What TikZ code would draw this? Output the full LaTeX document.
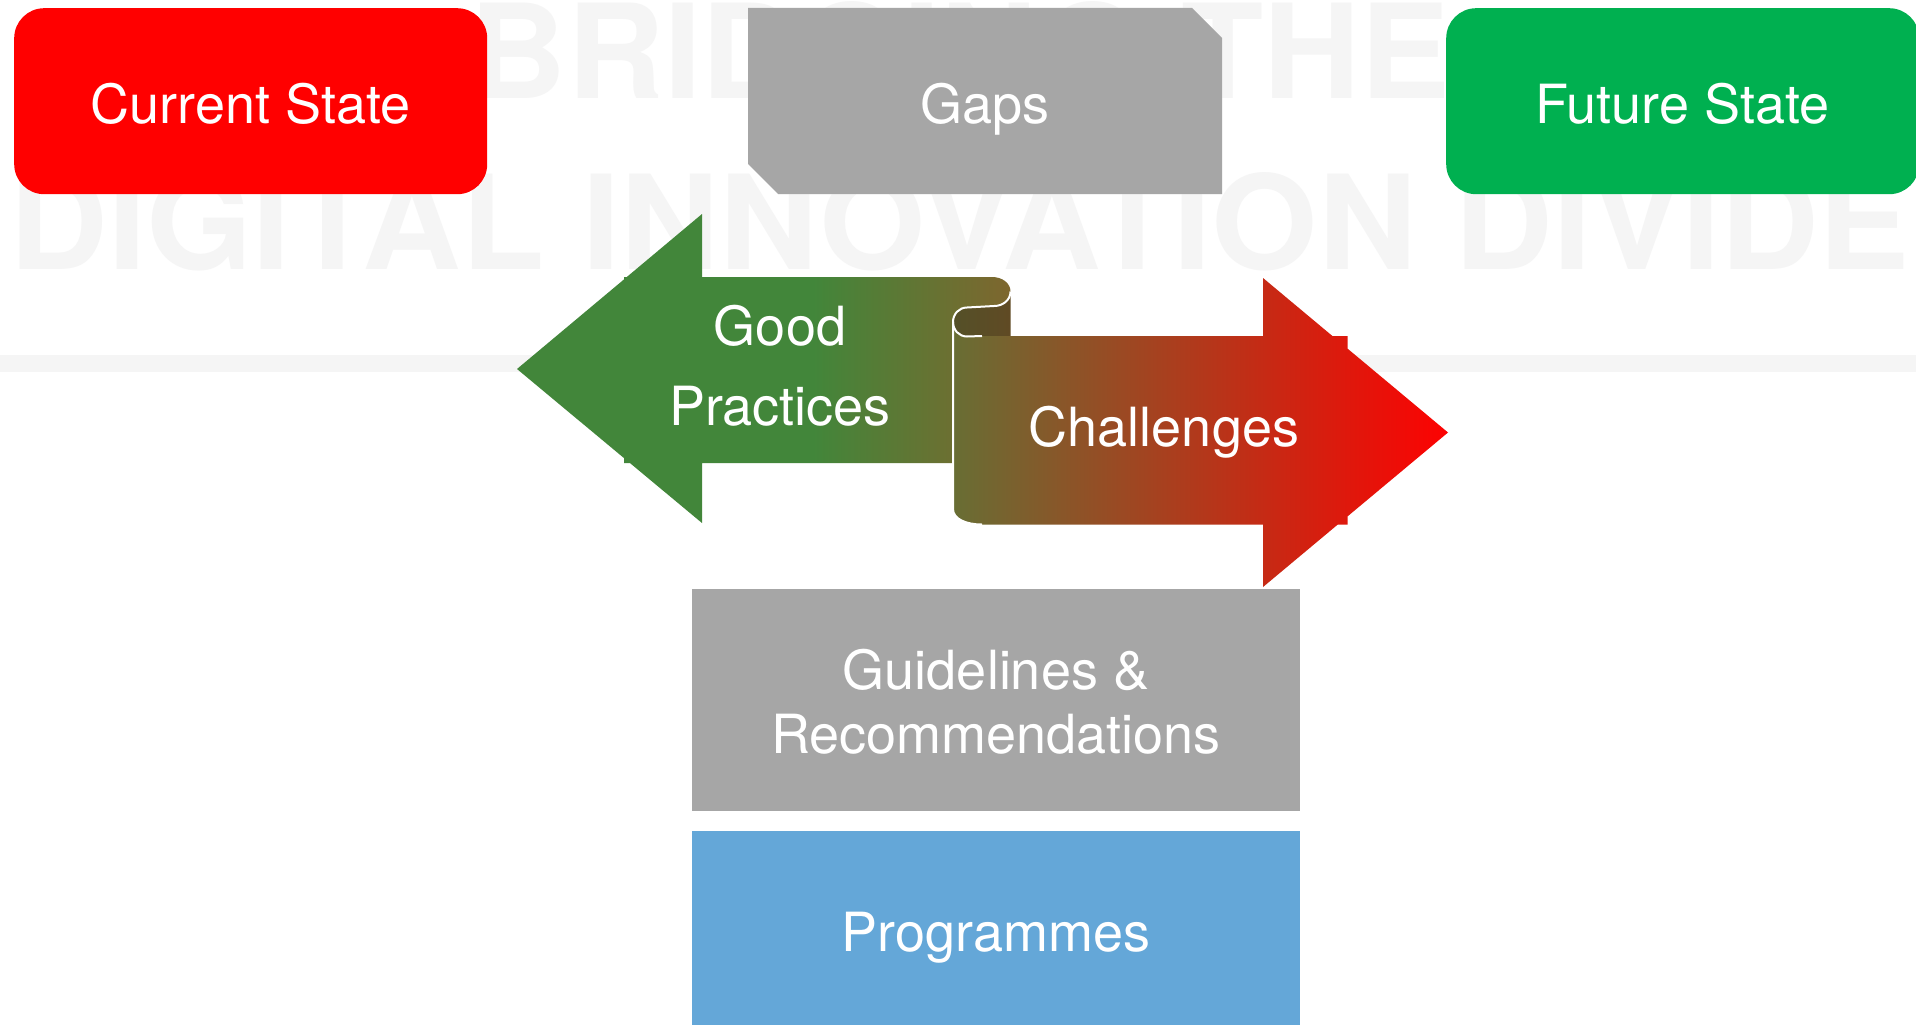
\documentclass[tikz,border=0pt]{standalone}
\usepackage{fontspec}
\setmainfont{TeX Gyre Heros}
\usepackage{graphicx}
\definecolor{ttl}{RGB}{245,245,245}
\definecolor{boxgray}{RGB}{166,166,166}
\definecolor{curred}{RGB}{255,0,0}
\definecolor{futgreen}{RGB}{0,176,80}
\definecolor{progblue}{RGB}{100,167,216}
\definecolor{gA}{RGB}{66,134,58}
\definecolor{gB}{RGB}{126,102,46}
\definecolor{rA}{RGB}{104,110,52}
\definecolor{rB}{RGB}{253,2,2}
\definecolor{dA}{RGB}{84,80,40}
\definecolor{dB}{RGB}{96,74,36}
\pgfdeclarehorizontalshading{greenrib}{100bp}{color(0bp)=(gA); color(55bp)=(gA); color(75bp)=(gB); color(100bp)=(gB)}
\begin{document}
\begin{tikzpicture}[x=1pt,y=-1pt,
  lbl/.style={text=white, inner sep=0pt, anchor=base, font=\fontsize{54}{64}\selectfont},
  ttlnode/.style={text=ttl, inner sep=0pt, anchor=base},
  boxnode/.style={inner sep=0pt, anchor=north west},
  outline/.style={white, line width=2pt}]
\useasboundingbox (0,0) rectangle (1916,1025);
\fill[white] (0,0) rectangle (1916,1025);
% background title
\node[ttlnode] (title1) at (960,99) {\resizebox{980pt}{97pt}{\fontsize{131}{131}\selectfont\bfseries BRIDGING THE}};
\node[ttlnode] (title2) at (960,269) {\resizebox{1900pt}{97pt}{\fontsize{131}{131}\selectfont\bfseries DIGITAL INNOVATION DIVIDE}};
\fill[ttl] (0,355) rectangle (1916,372);
% top boxes
\node[boxnode, fill=curred, rounded corners=30pt, minimum width=473pt, minimum height=186pt] (cur) at (14,8) {};
\fill[boxgray] (748,8) -- (1192,8) -- (1222,38) -- (1222,194) -- (778,194) -- (748,164) -- cycle;
\node[boxnode, fill=futgreen, rounded corners=30pt, minimum width=473pt, minimum height=186pt] (fut) at (1446,8) {};
% bottom boxes
\node[boxnode, fill=boxgray, minimum width=608pt, minimum height=222pt] (guid) at (692,589) {};
\node[boxnode, fill=progblue, minimum width=608pt, minimum height=194pt] (prog) at (692,831) {};
% scroll back
\shade[left color=dA, right color=dB] (1010.5,291.5) -- (1010.5,336) -- (982,336) -- (967,336.5) .. controls (959,336.5) and (953,330) .. (953,322) .. controls (953,314) and (959,307.5) .. (967,307.5) -- (994,306) .. controls (1003,306) and (1010.5,300) .. (1010.5,291.5) -- cycle;
% green ribbon arrow
\shade[shading=greenrib] (517,369) -- (624,279.4) -- (624,277) -- (626.8,277) -- (702,214) -- (702,277) -- (992,277) .. controls (1002,277) and (1010.5,283) .. (1010.5,291.5) .. controls (1010.5,300) and (1003,306) .. (994,306) -- (967,307.5) .. controls (959,307.5) and (953,314) .. (953,322) -- (953,463) -- (702,463) -- (702,523) -- (629.9,463) -- (624,463) -- (624,458.1) -- cycle;
% red ribbon arrow
\shade[left color=rA, right color=rB] (953,322) -- (953,509) .. controls (953,519) and (966,524.5) .. (982,524.5) -- (1263,524.5) -- (1263,587) -- (1337.8,524.5) -- (1347.5,524.5) -- (1347.5,516.4) -- (1448,432.5) -- (1347.5,348.6) -- (1347.5,336) -- (1332.4,336) -- (1263,278) -- (1263,336) -- (982,336) -- (967,336.5) .. controls (959,336.5) and (953,330) .. (953,322) -- cycle;
% white outlines of the scroll
\draw[outline] (1010.5,291.5) .. controls (1010.5,300) and (1003,306) .. (994,306) -- (967,307.5) .. controls (959,307.5) and (953,314) .. (953,322) -- (953,509) .. controls (953,519) and (966,524.5) .. (982,524.5);
\draw[outline] (953,322) .. controls (953,330) and (959,336.5) .. (967,336.5) -- (982,336);
% labels
\node[lbl] (curtxt) at (250.5,123) {Current State};
\node[lbl] (gapstxt) at (985,123) {Gaps};
\node[lbl] (futtxt) at (1682.5,123) {Future State};
\node[lbl] (goodtxt) at (780,345) {Good};
\node[lbl] (practxt) at (780,425) {Practices};
\node[lbl] (chaltxt) at (1164,446) {Challenges};
\node[lbl] (guidtxt) at (996,689) {Guidelines \&};
\node[lbl] (rectxt) at (996,753) {Recommendations};
\node[lbl] (progtxt) at (996,951) {Programmes};
\end{tikzpicture}
\end{document}
